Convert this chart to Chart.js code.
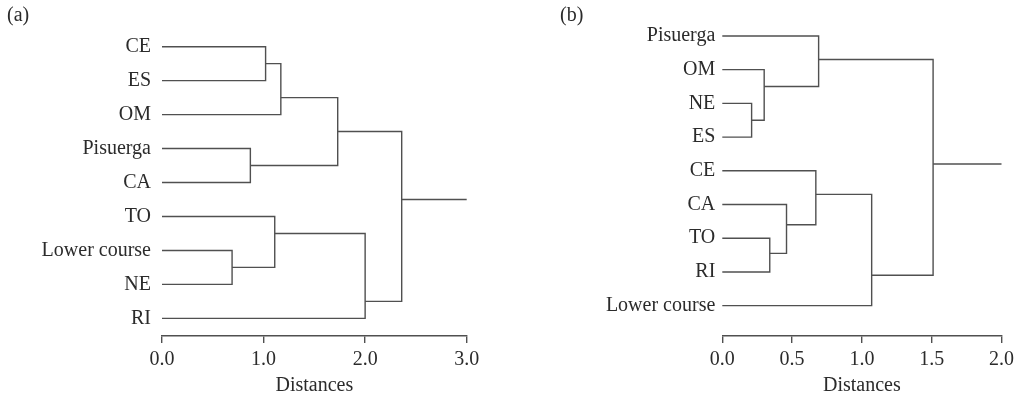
<!DOCTYPE html>
<html>
<head>
<meta charset="utf-8">
<script src="https://cdn.jsdelivr.net/npm/chart.js@4.4.1/dist/chart.umd.min.js"></script>
<style>
  html, body { margin: 0; padding: 0; background: #fff; }
  #wrap { position: relative; width: 1019px; height: 398px; overflow: hidden; }
  .panel { position: absolute; top: 0; height: 398px; }
  #panelA { left: 0; width: 510px; }
  #panelB { left: 510px; width: 509px; }
  .tag { position: absolute; top: 3px; font: 20px "Liberation Serif", serif; color: #2b2b2b; }
</style>
</head>
<body>
<div id="wrap">
  <div class="panel" id="panelA"><canvas id="chartA"></canvas></div>
  <div class="panel" id="panelB"><canvas id="chartB"></canvas></div>
  <div class="tag" style="left:7px">(a)</div>
  <div class="tag" style="left:560px">(b)</div>
</div>
<script>
// panel (a) - leaves top to bottom, merges as in a linkage table
// child index < 9 is a leaf, otherwise merge number + 9
const leavesA = ["CE", "ES", "OM", "Pisuerga", "CA", "TO", "Lower course", "NE", "RI"];
const leftA = [0, 9, 3, 10, 6, 5, 14, 12];
const rightA = [1, 2, 4, 11, 7, 13, 8, 15];
const heightA = [1.02, 1.17, 0.87, 1.73, 0.69, 1.11, 2.0, 2.36];
const rowA = [0.5, 1.5, 3.5, 2.5, 6.5, 5.5, 7.5, 4.5];
const ticksA = [0, 1, 2, 3];

// panel (b)
const leavesB = ["Pisuerga", "OM", "NE", "ES", "CE", "CA", "TO", "RI", "Lower course"];
const leftB = [2, 1, 0, 6, 5, 4, 14, 11];
const rightB = [3, 9, 10, 7, 12, 13, 8, 15];
const heightB = [0.21, 0.30, 0.69, 0.34, 0.46, 0.67, 1.07, 1.51];
const rowB = [2.5, 1.5, 0.7, 6.45, 5.6, 4.7, 7.1, 3.8];
const ticksB = [0, 0.5, 1, 1.5, 2];

const ink = "#505050";
const textInk = "#2b2b2b";
const font = { family: "'Liberation Serif', 'Times New Roman', serif", size: 20 };

function dendroSets(leaves, left, right, height, row, stemEnd) {
  const n = leaves.length;
  const nodeH = (i) => (i < n ? 0 : height[i - n]);
  const nodeY = (i) => (i < n ? i : row[i - n]);
  const sets = left.map((l, k) => ({
    data: [
      { x: nodeH(l), y: nodeY(l) },
      { x: height[k], y: nodeY(l) },
      { x: height[k], y: nodeY(right[k]) },
      { x: nodeH(right[k]), y: nodeY(right[k]) },
    ],
  }));
  const last = left.length - 1;
  sets.push({ data: [{ x: height[last], y: row[last] }, { x: stemEnd, y: row[last] }] });
  return sets.map((s) => ({
    ...s,
    showLine: true,
    borderColor: ink,
    borderWidth: 1.4,
    pointRadius: 0,
    tension: 0,
    fill: false,
    clip: false,
  }));
}

function makeChart(id, leaves, left, right, height, row, ticks, opt) {
  const xMax = ticks[ticks.length - 1];
  return new Chart(document.getElementById(id), {
    type: "scatter",
    data: { datasets: dendroSets(leaves, left, right, height, row, xMax) },
    options: {
      responsive: true,
      maintainAspectRatio: false,
      animation: false,
      layout: { padding: { top: opt.padTop, right: opt.padRight, left: 0, bottom: 0 } },
      plugins: { legend: { display: false }, tooltip: { enabled: false } },
      scales: {
        x: {
          type: "linear",
          min: 0,
          max: xMax,
          afterBuildTicks: (s) => { s.ticks = ticks.map((v) => ({ value: v })); },
          afterFit: (s) => { s.height = 62; },
          ticks: { color: textInk, font: font, padding: 5, maxRotation: 0, callback: (v) => v.toFixed(1) },
          grid: { display: true, drawOnChartArea: false, drawTicks: true, tickLength: 7, color: ink, lineWidth: 1.4 },
          border: { display: true, color: ink, width: 1.4 },
          title: { display: true, text: "Distances", color: textInk, font: font, padding: { top: 0, bottom: 0 } },
        },
        y: {
          type: "linear",
          reverse: true,
          min: -0.5,
          max: opt.yMax,
          afterBuildTicks: (s) => { s.ticks = leaves.map((_, i) => ({ value: i })); },
          afterFit: (s) => { s.width = opt.axisLeft; },
          ticks: { color: textInk, font: font, padding: opt.gap, callback: (v) => leaves[v] },
          grid: { display: false, drawTicks: false },
          border: { display: false },
        },
      },
    },
  });
}

makeChart("chartA", leavesA, leftA, rightA, heightA, rowA, ticksA,
  { padTop: 29.7, padRight: 43.3, yMax: 8.52, axisLeft: 162, gap: 11 });
makeChart("chartB", leavesB, leftB, rightB, heightB, rowB, ticksB,
  { padTop: 19.1, padRight: 14.7, yMax: 8.9, axisLeft: 212.3, gap: 7 });
</script>
</body>
</html>
